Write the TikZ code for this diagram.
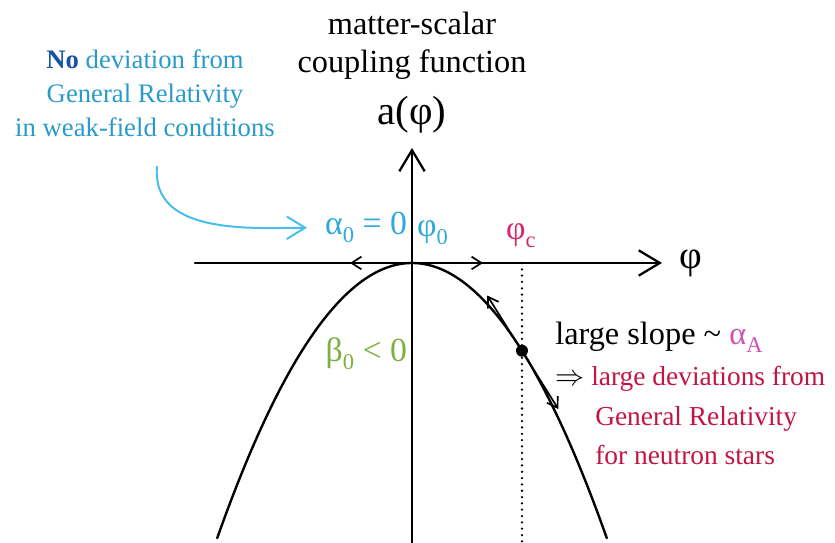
\documentclass[tikz,border=0pt]{standalone}
\usepackage{fontspec}
\newfontfamily\timesfont{Liberation Serif}
\usetikzlibrary{arrows.meta,calc}
\definecolor{notecyan}{RGB}{40,155,200}
\definecolor{notedark}{RGB}{20,85,165}
\definecolor{zerocyan}{RGB}{45,170,215}
\definecolor{critred}{RGB}{215,40,110}
\definecolor{alphapink}{RGB}{210,80,180}
\definecolor{betagreen}{RGB}{125,175,65}
\definecolor{devred}{RGB}{195,20,70}
\definecolor{arrowcyan}{RGB}{70,190,235}
\newcommand{\lowidx}[1]{\raisebox{-0.5ex}{\fontsize{16}{16}\selectfont #1}}
\tikzset{
	big/.style={font=\timesfont\fontsize{23}{27}\selectfont, inner sep=0pt},
	note/.style={font=\timesfont\fontsize{19}{24}\selectfont, inner sep=0pt, align=center},
	greek/.style={font=\timesfont\fontsize{24}{28}\selectfont, inner sep=0pt},
	side/.style={font=\timesfont\fontsize{19.5}{28}\selectfont, inner sep=0pt, anchor=base west},
	axisarrow/.style={-{Straight Barb[length=15pt,width=18pt,line width=1.6pt]}, line width=1.6pt},
	smallarrows/.style={{Straight Barb[length=7pt,width=9pt]}-{Straight Barb[length=7pt,width=9pt]}, line width=1.2pt}
}
\begin{document}
\begin{tikzpicture}[line join=round, line cap=round]
	\def\xmin{-5.425} \def\xmax{6.25} \def\ymin{-7} \def\ymax{2.875}
	\useasboundingbox (-10.3,-7) rectangle (10.575,6.575);
	\draw[axisarrow] (\xmin,0)--(\xmax,0) node[right=0.42cm, inner sep=0pt, font=\timesfont\fontsize{28}{30}\selectfont] (phi) {φ};
	\draw[axisarrow] (0,\ymin)--(0,\ymax);
	\node[big, anchor=base] (top) at (0,5.7) {matter-scalar};
	\node[big, anchor=base] (mid) at (0,4.75) {coupling function};
	\node[anchor=base, inner sep=0pt, font=\timesfont\fontsize{29}{32}\selectfont] (afun) at (0,3.45) {a(φ)};
	\draw[line width=1.7pt, smooth, samples=120, domain=-4.87:4.87] plot(\x,{-0.29*\x*\x});
	\coordinate (peak) at (0,0);
	\draw[smallarrows] ($(peak)+(-1.55,0)$)--($(peak)+(1.775,0)$);
	\draw[line width=1.8pt, dash pattern=on 0pt off 4.5pt] (2.75,0)--(2.75,\ymin);
	\fill (2.75,-2.193) circle (0.15) coordinate (crit);
	\draw[smallarrows] ($(crit)+(-0.87,1.38)$)--($(crit)+(0.91,-1.46)$);
	\node[greek, anchor=base east, zerocyan] (azero) at (-0.12,0.7) {α\lowidx{0} = 0};
	\node[greek, anchor=base west, zerocyan] (phizero) at (0.12,0.65) {φ\lowidx{0}};
	\node[greek, anchor=base, critred] (phic) at (2.72,0.575) {φ\lowidx{c}};
	\node[greek, anchor=base east, betagreen] (bzero) at (-0.12,-2.475) {β\lowidx{0} < 0};
	\node[note, notecyan] (weak) at (-6.675,4.25) {\textcolor{notedark}{\textbf{No}} deviation from\\General Relativity\\in weak-field conditions};
	\draw[-{Straight Barb[length=13pt,width=16pt]}, arrowcyan, line width=1.4pt, shorten >=0.45cm] ([xshift=0.3cm,yshift=-0.75cm]weak.south) to[out=-95, in=180] (azero.west);
	\node[big, anchor=base west] (slope) at (3.575,-2.05) {large slope \textasciitilde{} \textcolor{alphapink}{α\lowidx{A}}};
	\node[side] (dev) at (3.575,-3.075) {$\Rightarrow$ \textcolor{devred}{large deviations from}};
	\node[side, devred] (gr) at (4.575,-4.075) {General Relativity};
	\node[side, devred] (ns) at (4.575,-5.05) {for neutron stars};
\end{tikzpicture}
\end{document}
